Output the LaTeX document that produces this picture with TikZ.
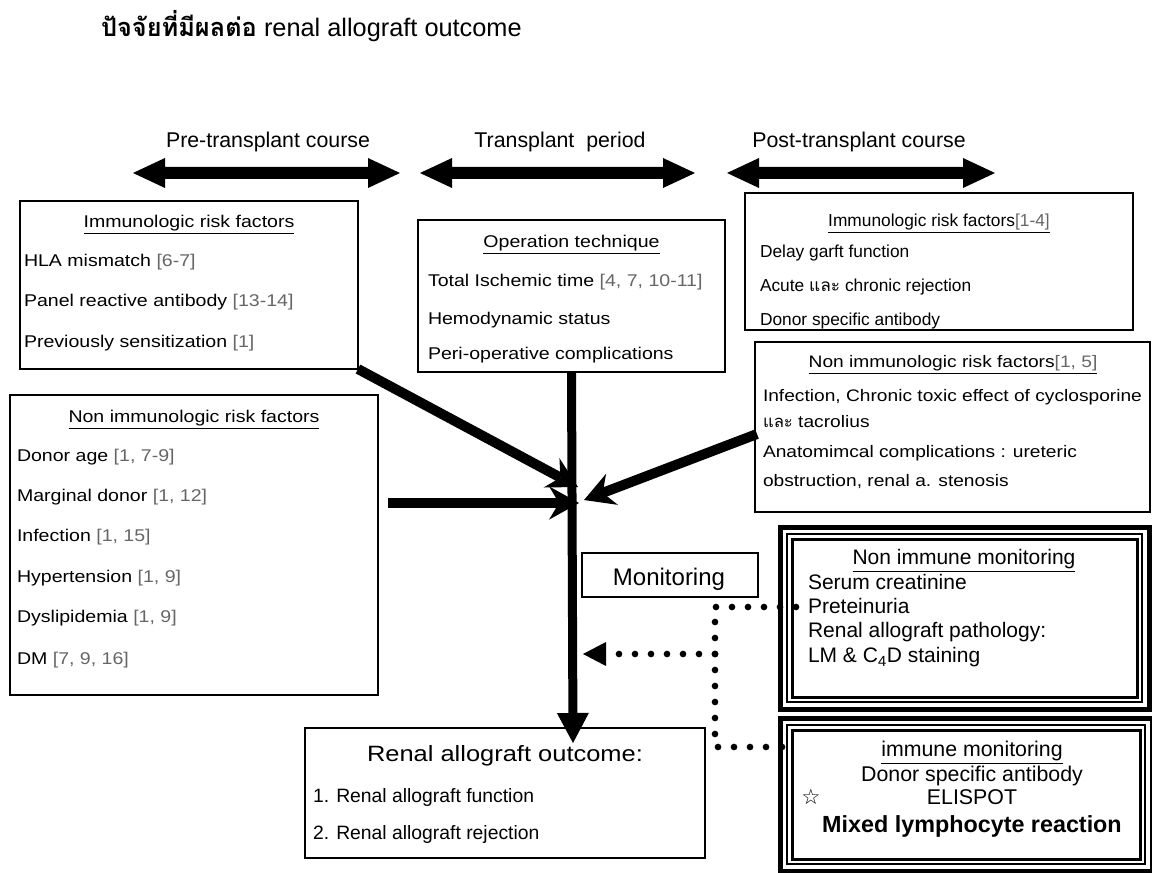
\documentclass[tikz,border=0pt]{standalone}
\usepackage{fontspec}
\setmainfont{Liberation Sans}
\newfontfamily\widefont[FakeStretch=1.15]{Liberation Sans}
\newfontfamily\thaifont[Script=Thai]{Loma}
\newfontfamily\symfont{DejaVu Sans}
\usetikzlibrary{arrows.meta}
\definecolor{refgray}{gray}{0.4}
\newcommand{\rf}[1]{{\color{refgray}#1}}
\newcommand{\fA}{\widefont\fontsize{12.75pt}{15pt}\selectfont}
\newcommand{\fB}{\fontsize{13pt}{15pt}\selectfont}
\newcommand{\fC}{\widefont\fontsize{12.5pt}{15pt}\selectfont}
\newcommand{\fD}{\fontsize{15.75pt}{18pt}\selectfont}
\newcommand{\dblarrow}[3]{\fill (#1,#3) -- (#1+32,#3-15) -- (#1+32,#3-6) -- (#2-32,#3-6) -- (#2-32,#3-15) -- (#2,#3) -- (#2-32,#3+15) -- (#2-32,#3+6) -- (#1+32,#3+6) -- (#1+32,#3+15) -- cycle;}
\begin{document}
\begin{tikzpicture}[x=0.75pt,y=-0.75pt,
  every node/.style={inner sep=0pt,outer sep=0pt},
  bx/.style={draw,line width=1.5pt,anchor=north west},
  sz/.style 2 args={minimum width=#1*0.75pt,minimum height=#2*0.75pt},
  tx/.style={anchor=west,text height=0.72em,text depth=0pt},
  ctx/.style={anchor=center,text height=0.72em,text depth=0pt},
  conv/.style={line width=7.5pt,-{Stealth[length=22.5pt,width=25pt,inset=7.5pt,line width=0pt]}},
  mainarr/.style={line width=6.75pt,-{Triangle[length=22.5pt,width=24pt,line width=0pt]}},
  dots/.style={line width=5pt,line cap=round,dash pattern=on 0pt off 12pt},
]
\fill[white] (0,0) rectangle (1152,873);
\useasboundingbox (0,0) rectangle (1152,873);

% title
\node[tx,font=\fontsize{19pt}{21pt}\selectfont] (title) at (101,32) {{\thaifont\bfseries ปัจจัยที่มีผลต่อ} renal allograft outcome};

% period labels and arrows
\node[ctx,font=\fontsize{16pt}{18pt}\selectfont] (lpre) at (268,143) {Pre-transplant course};
\node[ctx,font=\fontsize{16pt}{18pt}\selectfont] (ltr) at (560,143) {Transplant\ \ period};
\node[ctx,font=\fontsize{16pt}{18pt}\selectfont] (lpost) at (859,143) {Post-transplant course};
\dblarrow{133}{400}{173}
\dblarrow{420}{695}{173}
\dblarrow{727}{995}{173}

% box 1
\node[bx,sz={338}{168}] (imm1) at (20,201) {};
\node[ctx,font=\fA] (imm1t) at (189,223) {\underline{Immunologic risk factors}};
\node[tx,font=\fA] (imm1a) at (24,262) {HLA mismatch \rf{[6-7]}};
\node[tx,font=\fA] (imm1b) at (24,302) {Panel reactive antibody \rf{[13-14]}};
\node[tx,font=\fA] (imm1c) at (24,343) {Previously sensitization \rf{[1]}};

% box 2
\node[bx,sz={307}{152}] (op) at (418,220) {};
\node[ctx,font=\fA] (opt) at (571.5,243) {\underline{Operation technique}};
\node[tx,font=\fA] (opa) at (428,282) {Total Ischemic time \rf{[4, 7, 10-11]}};
\node[tx,font=\fA] (opb) at (428,320) {Hemodynamic status};
\node[tx,font=\fA] (opc) at (428,355) {Peri-operative complications};

% box 3
\node[bx,sz={388}{137}] (imm2) at (745,193) {};
\begin{scope}
\clip (745,193) rectangle (1133,330);
\node[ctx,font=\fB] (imm2t) at (939,222) {\underline{Immunologic risk factors\rf{[1-4]}}};
\node[tx,font=\fB] (imm2a) at (760,253) {Delay garft function};
\node[tx,font=\fB] (imm2b) at (760,287) {Acute {\thaifont และ} chronic rejection};
\node[tx,font=\fB] (imm2c) at (760,321) {Donor specific antibody};
\end{scope}

% box 4
\node[bx,sz={395}{170}] (non2) at (755,342) {};
\node[ctx,font=\fC] (non2t) at (953,363) {\underline{Non immunologic risk factors\rf{[1, 5]}}};
\node[tx,font=\fC] (non2a) at (763,397) {Infection, Chronic toxic effect of cyclosporine};
\node[tx,font=\fC] (non2b) at (763,423) {{\thaifont และ} tacrolius};
\node[tx,font=\fC] (non2c) at (763,453) {Anatomimcal complications : ureteric};
\node[tx,font=\fC] (non2d) at (763,482) {obstruction, renal a. stenosis};

% box 5
\node[bx,sz={368}{300}] (non1) at (10,395) {};
\node[ctx,font=\fA] (non1t) at (194,418) {\underline{Non immunologic risk factors}};
\node[tx,font=\fA] (non1a) at (17,457) {Donor age \rf{[1, 7-9]}};
\node[tx,font=\fA] (non1b) at (17,497) {Marginal donor \rf{[1, 12]}};
\node[tx,font=\fA] (non1c) at (17,537) {Infection \rf{[1, 15]}};
\node[tx,font=\fA] (non1d) at (17,578) {Hypertension \rf{[1, 9]}};
\node[tx,font=\fA] (non1e) at (17,618) {Dyslipidemia \rf{[1, 9]}};
\node[tx,font=\fA] (non1f) at (17,660) {DM \rf{[7, 9, 16]}};

% outcome
\node[bx,sz={400}{130}] (out) at (305,728) {};
\node[ctx,font=\widefont\fontsize{16.6pt}{18pt}\selectfont] (outt) at (505,757) {Renal allograft outcome:};
\node[tx,font=\fontsize{14.5pt}{16pt}\selectfont] (outa) at (313,798) {1. Renal allograft function};
\node[tx,font=\fontsize{14.5pt}{16pt}\selectfont] (outb) at (313,835) {2. Renal allograft rejection};

% converging arrows
\coordinate (h1) at (578,487);
\coordinate (h2) at (579,503);
\coordinate (h3) at (584,500);
\coordinate (hs) at (388,503);
\coordinate (rs) at (757,434);
\draw[conv] (imm1.south east) -- (h1);
\draw[conv] (hs) -- (h2);
\draw[conv] (rs) -- (h3);
\coordinate (vt) at (573,743);
\draw[mainarr] (op.south) -- (vt);

% monitoring
\node[draw,line width=1.5pt,anchor=north west,sz={176}{44}] (mon) at (582,553) {};
\begin{scope}
\clip (582,553) rectangle (758,597);
\node[ctx,font=\fontsize{18pt}{20pt}\selectfont] (mont) at (669,581) {Monitoring};
\end{scope}

% non immune monitoring box
\node[draw,line width=3.75pt,anchor=north west,sz={369}{182}] (nim) at (780,527) {};
\draw[line width=1.5pt] ([shift={(7,7)}]nim.north west) rectangle ([shift={(-7,-7)}]nim.south east);
\draw[line width=2.25pt] ([shift={(12,12)}]nim.north west) rectangle ([shift={(-12,-12)}]nim.south east);
\node[ctx,font=\fD] (nimt) at (964,560) {\underline{Non immune monitoring}};
\node[tx,font=\fD] (nima) at (808,585) {Serum creatinine};
\node[tx,font=\fD] (nimb) at (808,609) {Preteinuria};
\node[tx,font=\fD] (nimc) at (808,633) {Renal allograft pathology:};
\node[tx,font=\fD] (nimd) at (808,658) {LM \& C\textsubscript{4}D staining};

% immune monitoring box
\node[draw,line width=3.75pt,anchor=north west,sz={372}{153}] (im) at (780,718) {};
\draw[line width=1.5pt] ([shift={(7,7)}]im.north west) rectangle ([shift={(-7,-7)}]im.south east);
\draw[line width=2.25pt] ([shift={(12,12)}]im.north west) rectangle ([shift={(-12,-12)}]im.south east);
\node[ctx,font=\fontsize{16pt}{18pt}\selectfont] (imt) at (972,752) {\underline{immune monitoring}};
\node[ctx,font=\fontsize{16pt}{18pt}\selectfont] (ima) at (972,777) {Donor specific antibody};
\node[ctx,font=\fontsize{16pt}{18pt}\selectfont] (imb) at (972,800) {ELISPOT};
\node[ctx,font=\bfseries\fontsize{17.5pt}{20pt}\selectfont] (imc) at (972,828) {Mixed lymphocyte reaction};
\node[font=\symfont\fontsize{16pt}{18pt}\selectfont] (star) at (811,797) {☆};

% dotted connectors
\coordinate (d1) at (796,607);
\coordinate (d2) at (715,607);
\coordinate (d3) at (715,747);
\coordinate (d4) at (796,747);
\coordinate (d5) at (715,654);
\coordinate (d6) at (612,654);
\draw[dots] (d1) -- (d2) -- (d3) -- (d4);
\draw[dots] (d5) -- (d6);
\fill (583,654) -- (606,642) -- (606,666) -- cycle;
\end{tikzpicture}
\end{document}
